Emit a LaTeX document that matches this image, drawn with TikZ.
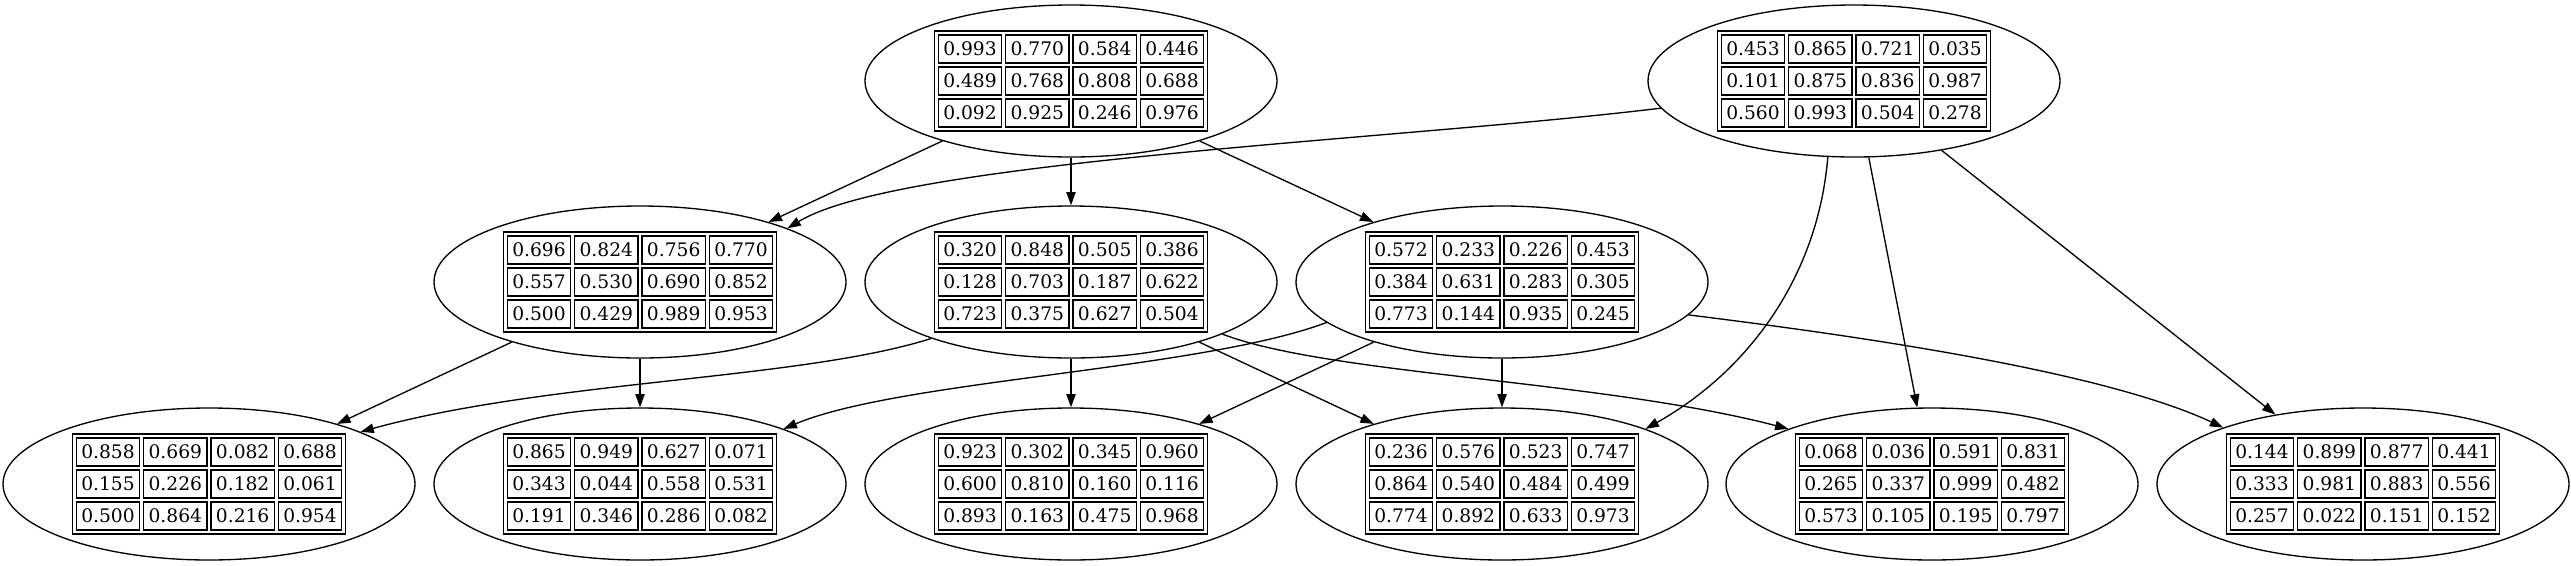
\documentclass[tikz,border=0pt]{standalone}
\usepackage{fontspec}
\newfontfamily\cellfont{DejaVu Serif}
\usetikzlibrary{matrix,shapes.geometric,arrows.meta}
\tikzset{
  ell/.style={draw, ellipse, line width=1pt, minimum width=309pt, minimum height=114pt, inner sep=0pt},
  tbl/.style={matrix of nodes, draw, line width=1pt, inner sep=2.5pt, column sep=2pt, row sep=2pt,
    nodes={draw, line width=1pt, minimum width=47.5pt, minimum height=21pt, inner sep=0pt,
      font=\cellfont\fontsize{14}{16}\selectfont, anchor=center}},
  conn/.style={line width=1pt, -{Triangle[length=10pt,width=7pt]}}
}
\begin{document}
\begin{tikzpicture}[x=0.75pt,y=-0.75pt]
\useasboundingbox (0,0) rectangle (2571,565);
% ellipses
\node[ell] (T1) at (1071,81) {};
\node[ell] (T2) at (1854,81) {};
\node[ell] (M1) at (640,282) {};
\node[ell] (M2) at (1071,282) {};
\node[ell] (M3) at (1502,282) {};
\node[ell] (B1) at (209,484) {};
\node[ell] (B2) at (640,484) {};
\node[ell] (B3) at (1071,484) {};
\node[ell] (B4) at (1502,484) {};
\node[ell] (B5) at (1932,484) {};
\node[ell] (B6) at (2363,484) {};
% tables
\matrix (tT1) [tbl] at (1071,81) {
0.993 & 0.770 & 0.584 & 0.446 \\
0.489 & 0.768 & 0.808 & 0.688 \\
0.092 & 0.925 & 0.246 & 0.976 \\
};
\matrix (tT2) [tbl] at (1854,81) {
0.453 & 0.865 & 0.721 & 0.035 \\
0.101 & 0.875 & 0.836 & 0.987 \\
0.560 & 0.993 & 0.504 & 0.278 \\
};
\matrix (tM1) [tbl] at (640,282) {
0.696 & 0.824 & 0.756 & 0.770 \\
0.557 & 0.530 & 0.690 & 0.852 \\
0.500 & 0.429 & 0.989 & 0.953 \\
};
\matrix (tM2) [tbl] at (1071,282) {
0.320 & 0.848 & 0.505 & 0.386 \\
0.128 & 0.703 & 0.187 & 0.622 \\
0.723 & 0.375 & 0.627 & 0.504 \\
};
\matrix (tM3) [tbl] at (1502,282) {
0.572 & 0.233 & 0.226 & 0.453 \\
0.384 & 0.631 & 0.283 & 0.305 \\
0.773 & 0.144 & 0.935 & 0.245 \\
};
\matrix (tB1) [tbl] at (209,484) {
0.858 & 0.669 & 0.082 & 0.688 \\
0.155 & 0.226 & 0.182 & 0.061 \\
0.500 & 0.864 & 0.216 & 0.954 \\
};
\matrix (tB2) [tbl] at (640,484) {
0.865 & 0.949 & 0.627 & 0.071 \\
0.343 & 0.044 & 0.558 & 0.531 \\
0.191 & 0.346 & 0.286 & 0.082 \\
};
\matrix (tB3) [tbl] at (1071,484) {
0.923 & 0.302 & 0.345 & 0.960 \\
0.600 & 0.810 & 0.160 & 0.116 \\
0.893 & 0.163 & 0.475 & 0.968 \\
};
\matrix (tB4) [tbl] at (1502,484) {
0.236 & 0.576 & 0.523 & 0.747 \\
0.864 & 0.540 & 0.484 & 0.499 \\
0.774 & 0.892 & 0.633 & 0.973 \\
};
\matrix (tB5) [tbl] at (1932,484) {
0.068 & 0.036 & 0.591 & 0.831 \\
0.265 & 0.337 & 0.999 & 0.482 \\
0.573 & 0.105 & 0.195 & 0.797 \\
};
\matrix (tB6) [tbl] at (2363,484) {
0.144 & 0.899 & 0.877 & 0.441 \\
0.333 & 0.981 & 0.883 & 0.556 \\
0.257 & 0.022 & 0.151 & 0.152 \\
};
% straight connectors
\draw[conn] (T1) -- (M1);
\draw[conn] (T1) -- (M2);
\draw[conn] (T1) -- (M3);
\draw[conn] (T2) -- (B5);
\draw[conn] (T2) -- (B6);
\draw[conn] (M1) -- (B1);
\draw[conn] (M1) -- (B2);
\draw[conn] (M2) -- (B3);
\draw[conn] (M2) -- (B4);
\draw[conn] (M3) -- (B3);
\draw[conn] (M3) -- (B4);
% curved connectors
\draw[conn] (T2.188.7) .. controls (1400,140) and (900,160) .. (M1.20);
\draw[conn] (T2.251.6) .. controls (1818,275) and (1750,370) .. (B4.21.7);
\draw[conn] (M2.202) .. controls (800,380) and (550,380) .. (B1.19.5);
\draw[conn] (M2.341.7) .. controls (1330,375) and (1600,380) .. (B5.159.2);
\draw[conn] (M3.193.4) .. controls (1200,370) and (900,380) .. (B2.21.4);
\draw[conn] (M3.350.3) .. controls (1850,335) and (2100,370) .. (B6.158.7);
\end{tikzpicture}
\end{document}
